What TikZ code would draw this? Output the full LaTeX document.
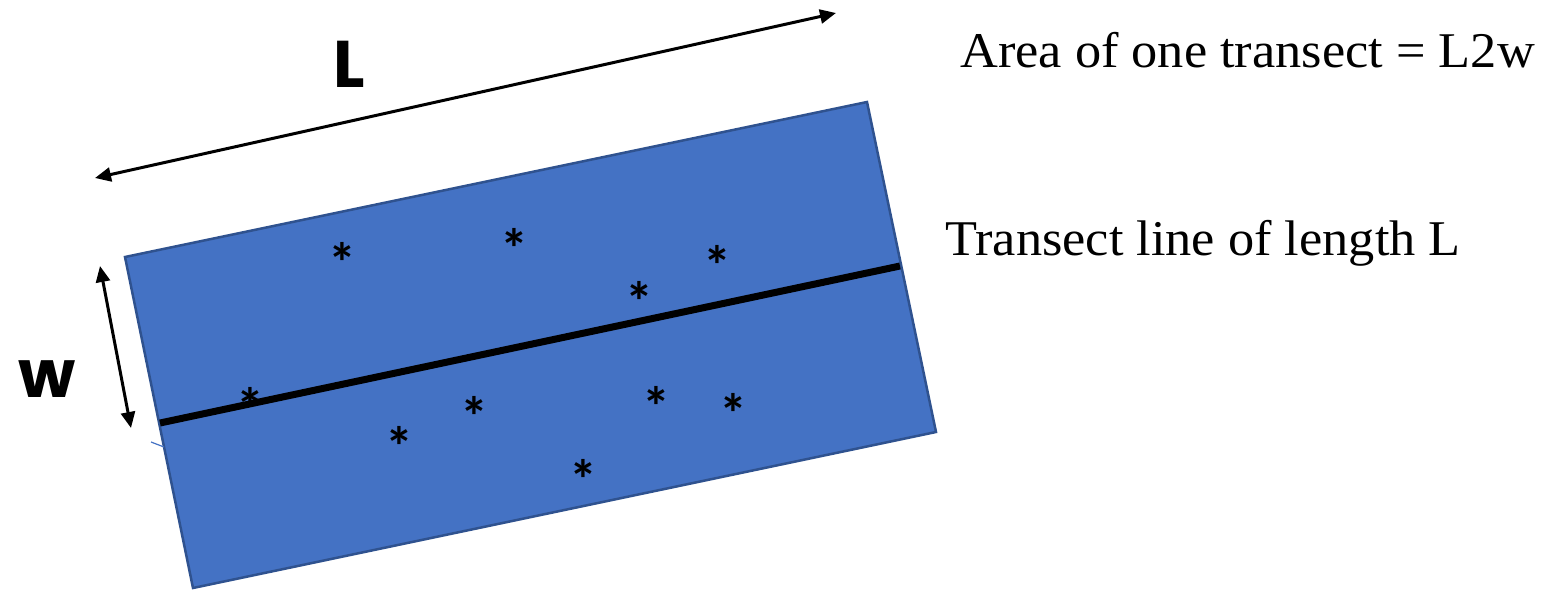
\documentclass[tikz,border=0pt]{standalone}
\usepackage{fontspec}
\setmainfont{Liberation Serif}
\newfontfamily\geofont{Poppins}
\newfontfamily\starfont{Carlito}
\usetikzlibrary{arrows.meta}
\definecolor{ofblue}{HTML}{4472C4}
\definecolor{ofedge}{HTML}{2F528F}
\tikzset{
  dimarrow/.style={line width=3pt,{Triangle[length=16pt,width=14pt]}-{Triangle[length=16pt,width=14pt]}},
  star/.style={font=\starfont\bfseries\fontsize{56}{56}\selectfont,inner sep=0pt,anchor=base},
  bigsans/.style={font=\geofont\bfseries\fontsize{66}{66}\selectfont,inner sep=0pt},
  serifl/.style={font=\fontsize{50}{50}\selectfont,inner sep=0pt,anchor=base west}
}
\newcommand{\widen}[1]{\scalebox{1.047}[1]{#1}}
\begin{document}
\begin{tikzpicture}[x=1pt,y=-1pt]
\useasboundingbox (0,0) rectangle (1544,589);
% rectangle
\coordinate (tl) at (125,257);
\coordinate (tr) at (867,102);
\coordinate (br) at (936,432);
\coordinate (bl) at (193,588);
\fill[ofblue,draw=ofedge,line width=2.5pt,line join=miter] (tl) -- (tr) -- (br) -- (bl) -- cycle;
% transect line
\coordinate (ta) at (160,423);
\coordinate (tb) at (900,266);
\draw[line width=7pt] (ta) -- (tb);
% small tick
\coordinate (k1) at (151,442);
\coordinate (k2) at (164,447);
\draw[ofblue,line width=1.2pt] (k1) -- (k2);
% dimension arrows
\coordinate (la) at (95,178);
\coordinate (lb) at (836,13);
\draw[dimarrow] (la) -- (lb);
\coordinate (wa) at (100,266);
\coordinate (wb) at (131,428);
\draw[dimarrow] (wa) -- (wb);
% labels
\node[bigsans] (Llab) at (349,64) {L};
\node[bigsans] (wlab) at (47,379) {w};
\node[serifl] (area) at (960,67) {\widen{Area of one transect = L2w}};
\node[serifl] (trans) at (945,255) {\widen{Transect line of length L}};
% stars
\foreach \n/\x/\y in {s1/342/250, s2/514/236, s3/717/253, s4/639/289, s5/250/395, s6/474/404, s7/399/434, s8/656/394, s9/733/401, s10/583/467}
  \node[star] (\n) at (\x,\y+32) {*};
\end{tikzpicture}
\end{document}
